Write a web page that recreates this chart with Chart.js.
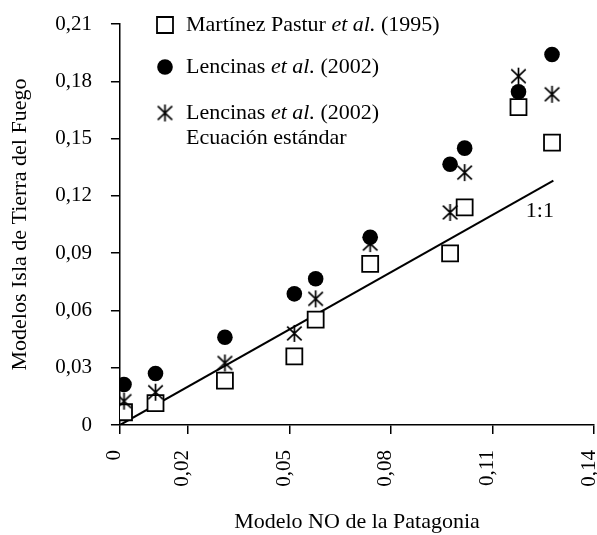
<!DOCTYPE html>
<html>
<head>
<meta charset="utf-8">
<script src="https://cdn.jsdelivr.net/npm/chart.js@4"></script>
<style>
html, body { margin: 0; padding: 0; background: #fff; }
#wrap { width: 597px; height: 535px; }
</style>
</head>
<body>
<div id="wrap"><canvas id="myChart"></canvas></div>
<script>
// data
var seriesNames = [
    'Martínez Pastur et al. (1995)',
    'Lencinas et al. (2002)',
    'Lencinas et al. (2002)\nEcuación estándar'
];
var xPatagonia = [0.0012, 0.0105, 0.031, 0.0515, 0.0578, 0.0739, 0.0975, 0.1018, 0.1177, 0.1276];
var yMartinez  = [0.0067, 0.0115, 0.0233, 0.036, 0.0552, 0.0844, 0.0899, 0.114, 0.1665, 0.1479];
var yLencinas  = [0.0212, 0.027, 0.046, 0.0687, 0.0766, 0.0983, 0.1366, 0.145, 0.1745, 0.194];
var yEstandar  = [0.0125, 0.0172, 0.0325, 0.048, 0.0661, 0.095, 0.1113, 0.1322, 0.1827, 0.1732];
var lineXY = [0, 0.128];
var xTicks = [0, 0.02, 0.05, 0.08, 0.11, 0.14];
var yTicks = [0, 0.03, 0.06, 0.09, 0.12, 0.15, 0.18, 0.21];

var FONT = 'Liberation Serif, Times New Roman, serif';

function pts(xs, ys) {
    return xs.map(function (x, i) { return { x: x, y: ys[i] }; });
}
function fmt(v) {
    if (Math.abs(v) < 1e-9) return '0';
    return v.toFixed(2).replace('.', ',');
}

// asterisk marker (vertical bar + X)
function makeAsterisk(size, lw) {
    var c = document.createElement('canvas');
    c.width = size; c.height = size;
    var g = c.getContext('2d');
    g.strokeStyle = '#000';
    g.lineWidth = lw;
    var m = size / 2, r = size / 2 - 1;
    g.beginPath();
    g.moveTo(m, m - r); g.lineTo(m, m + r);
    g.moveTo(m - r * 0.85, m - r * 0.8); g.lineTo(m + r * 0.85, m + r * 0.8);
    g.moveTo(m + r * 0.85, m - r * 0.8); g.lineTo(m - r * 0.85, m + r * 0.8);
    g.stroke();
    return c;
}
var asterisk = makeAsterisk(19, 1.7);

var legendInside = {
    id: 'legendInside',
    afterDraw: function (chart) {
        var ctx = chart.ctx;
        var rows = [25, 67, 113];
        ctx.save();
        for (var i = 0; i < 3; i++) {
            var ds = chart.data.datasets[i];
            ctx.fillStyle = ds.backgroundColor;
            ctx.strokeStyle = ds.borderColor;
            ctx.lineWidth = ds.borderWidth;
            Chart.helpers.drawPoint(ctx, {
                pointStyle: ds.pointStyle, radius: ds.pointRadius, rotation: 0,
                borderWidth: ds.borderWidth
            }, 165, rows[i]);
            var lines = seriesNames[i].split('\n');
            lines.forEach(function (line, k) {
                var x = 186, y = rows[i] + k * 25;
                ctx.fillStyle = '#000';
                ctx.textBaseline = 'middle';
                ctx.textAlign = 'left';
                line.split(/(et al\.)/).forEach(function (seg) {
                    if (!seg) return;
                    ctx.font = (seg === 'et al.' ? 'italic ' : '') + '22px ' + FONT;
                    ctx.fillText(seg, x, y);
                    x += ctx.measureText(seg).width;
                });
            });
        }
        // 1:1 label
        var xs = chart.scales.x, ys = chart.scales.y;
        ctx.font = '22px ' + FONT;
        ctx.textAlign = 'center';
        ctx.fillText('1:1', xs.getPixelForValue(0.124), ys.getPixelForValue(0.112));
        ctx.restore();
    }
};

var ctx = document.getElementById('myChart').getContext('2d');
var myChart = new Chart(ctx, {
    type: 'scatter',
    data: {
        datasets: [{
            label: seriesNames[0],
            data: pts(xPatagonia, yMartinez),
            pointStyle: 'rect',
            pointRadius: 11.3,
            backgroundColor: '#fff',
            borderColor: '#000',
            borderWidth: 1.8,
            order: 3
        }, {
            label: seriesNames[1],
            data: pts(xPatagonia, yLencinas),
            pointStyle: 'circle',
            pointRadius: 7.8,
            backgroundColor: '#000',
            borderColor: '#000',
            borderWidth: 0,
            order: 1
        }, {
            label: seriesNames[2],
            data: pts(xPatagonia, yEstandar),
            pointStyle: asterisk,
            pointRadius: 9,
            backgroundColor: '#000',
            borderColor: '#000',
            borderWidth: 1,
            order: 2
        }, {
            type: 'line',
            label: '1:1',
            data: pts(lineXY, lineXY),
            borderColor: '#000',
            borderWidth: 2,
            pointRadius: 0,
            fill: false,
            order: 4
        }]
    },
    options: {
        responsive: true,
        maintainAspectRatio: false,
        animation: false,
        layout: { autoPadding: false, padding: { top: 0, right: 3, left: 8, bottom: 1 } },
        plugins: {
            legend: { display: false },
            tooltip: { enabled: false }
        },
        scales: {
            x: {
                type: 'linear',
                min: 0,
                max: 0.14,
                afterBuildTicks: function (axis) {
                    axis.ticks = xTicks.map(function (v) { return { value: v }; });
                },
                afterFit: function (axis) {
                    axis.paddingLeft = 0;
                    axis.paddingRight = 0;
                },
                ticks: {
                    color: '#000',
                    font: { family: FONT, size: 21 },
                    minRotation: 90,
                    maxRotation: 90,
                    padding: 16,
                    labelOffset: -5,
                    callback: function (v) { return fmt(v); }
                },
                grid: { drawOnChartArea: false, drawTicks: true, tickLength: 9, color: '#000', lineWidth: 1.5 },
                border: { display: true, color: '#000', width: 1.5 },
                title: {
                    display: true,
                    text: 'Modelo NO de la Patagonia',
                    color: '#000',
                    font: { family: FONT, size: 22, lineHeight: 1.1 },
                    padding: { top: 7, bottom: 0 }
                }
            },
            y: {
                type: 'linear',
                min: 0,
                max: 0.21,
                afterBuildTicks: function (axis) {
                    axis.ticks = yTicks.map(function (v) { return { value: v }; });
                },
                afterFit: function (axis) {
                    axis.paddingTop = 24;
                    axis.paddingBottom = 0;
                },
                ticks: {
                    color: '#000',
                    font: { family: FONT, size: 21 },
                    padding: 19,
                    callback: function (v) { return fmt(v); }
                },
                grid: { drawOnChartArea: false, drawTicks: true, tickLength: 9, color: '#000', lineWidth: 1.5 },
                border: { display: true, color: '#000', width: 1.5 },
                title: {
                    display: true,
                    text: 'Modelos Isla de Tierra del Fuego',
                    color: '#000',
                    font: { family: FONT, size: 22, lineHeight: 1.1 },
                    padding: { top: 0, bottom: 4 }
                }
            }
        }
    },
    plugins: [legendInside]
});
</script>
</body>
</html>
